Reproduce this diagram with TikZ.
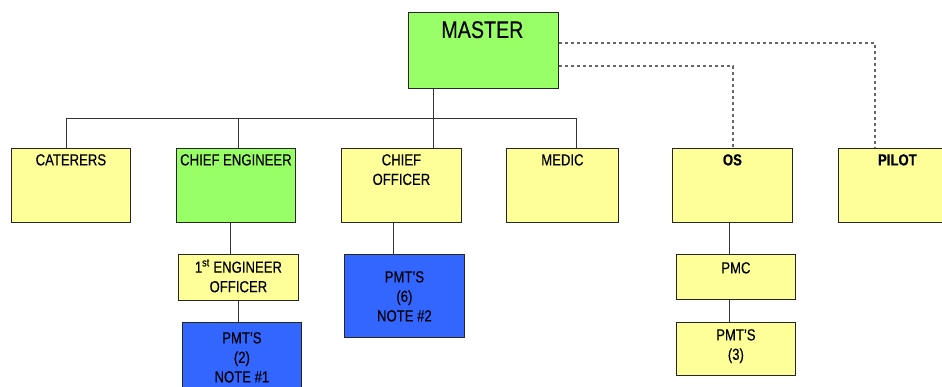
\documentclass[tikz,border=0pt]{standalone}
\usepackage{fontspec}
\setmainfont{Liberation Sans}[FakeStretch=0.82, FakeBold=0.35]
\begin{document}
\begin{tikzpicture}[x=1pt,y=-1pt,
  box/.style={draw=black!85, line width=0.8pt, inner sep=0pt, anchor=north west},
  yel/.style={box, fill=yellowbox},
  grn/.style={box, fill=greenbox},
  blu/.style={box, fill=bluebox},
  txt/.style={anchor=north, inner sep=0pt, align=center,
    font=\fontsize{16}{19.5}\selectfont},
  link/.style={draw=black!80, line width=0.8pt},
  dotlink/.style={draw=black!60, line width=1.1pt, dash pattern=on 3.5pt off 2.5pt}]
\definecolor{yellowbox}{HTML}{FFFF99}
\definecolor{greenbox}{HTML}{99FF66}
\definecolor{bluebox}{HTML}{3366FF}
\useasboundingbox (0,0) rectangle (942,387);

% top level
\node[grn, minimum width=150, minimum height=76] (master) at (408,12) {};
\node[txt, font=\fontsize{24}{26}\selectfont, yshift=-9pt, xshift=-1pt] (masterT) at (master.north) {MASTER};

% second row
\node[yel, minimum width=119, minimum height=74] (caterers) at (11,148) {};
\node[grn, minimum width=119, minimum height=74] (chiefeng) at (176,148) {};
\node[yel, minimum width=120, minimum height=74] (chiefoff) at (341,148) {};
\node[yel, minimum width=112, minimum height=74] (medic) at (506,148) {};
\node[yel, minimum width=120, minimum height=74] (os) at (672,148) {};
\node[yel, minimum width=120, minimum height=74] (pilot) at (838,148) {};

\node[txt, yshift=-6pt] (caterersT) at (caterers.north) {CATERERS};
\node[txt, yshift=-6pt] (chiefengT) at (chiefeng.north) {CHIEF ENGINEER};
\node[txt, yshift=-6pt] (chiefoffT) at (chiefoff.north) {CHIEF\\OFFICER};
\node[txt, yshift=-6pt] (medicT) at (medic.north) {MEDIC};
\node[txt, yshift=-6pt, font=\fontsize{16}{19.5}\selectfont\bfseries] (osT) at (os.north) {OS};
\node[txt, yshift=-6pt, font=\fontsize{16}{19.5}\selectfont\bfseries] (pilotT) at ([xshift=-1pt]pilot.north) {PILOT};

% lower rows
\node[yel, minimum width=120, minimum height=46] (eng1) at (178,254) {};
\node[blu, minimum width=119, minimum height=80] (pmt2) at (182,322) {};
\node[blu, minimum width=120, minimum height=83] (pmt6) at (344,254) {};
\node[yel, minimum width=119, minimum height=45] (pmc) at (676,254) {};
\node[yel, minimum width=119, minimum height=53] (pmt3) at (676,322) {};

\node[txt, yshift=-5pt] (eng1T) at (eng1.north) {1\textsuperscript{st} ENGINEER\\OFFICER};
\node[txt, yshift=-10pt] (pmt2T) at (pmt2.north) {PMT’S\\(2)\\NOTE \#1};
\node[txt, yshift=-17pt] (pmt6T) at (pmt6.north) {PMT’S\\(6)\\NOTE \#2};
\node[txt, yshift=-8pt] (pmcT) at (pmc.north) {PMC};
\node[txt, yshift=-7pt] (pmt3T) at (pmt3.north) {PMT’S\\(3)};

% bus and drop points
\coordinate (dCat) at (66,118);
\coordinate (dEng) at (238,118);
\coordinate (dMas) at (433,118);
\coordinate (dMed) at (576,118);

\draw[link] (dMas |- master.south) -- (dMas |- chiefoff.north);
\draw[link] (dCat |- caterers.north) -- (dCat) -- (dMed) -- (dMed |- medic.north);
\draw[link] (dEng) -- (dEng |- chiefeng.north);

% advisory lines
\coordinate (aOS) at (733,66);
\coordinate (aPil) at (875,43);
\draw[dotlink] (master.east |- aOS) -- (aOS) -- (aOS |- os.north);
\draw[dotlink] (master.east |- aPil) -- (aPil) -- (aPil |- pilot.north);

% sub-branches
\coordinate (cEng) at (230,0);
\coordinate (cEng1) at (238,0);
\coordinate (cOff) at (393,0);
\coordinate (cOS) at (729,0);
\draw[link] (cEng |- chiefeng.south) -- (cEng |- eng1.north);
\draw[link] (cEng1 |- eng1.south) -- (cEng1 |- pmt2.north);
\draw[link] (cOff |- chiefoff.south) -- (cOff |- pmt6.north);
\draw[link] (cOS |- os.south) -- (cOS |- pmc.north);
\draw[link] (cOS |- pmc.south) -- (cOS |- pmt3.north);
\end{tikzpicture}
\end{document}
